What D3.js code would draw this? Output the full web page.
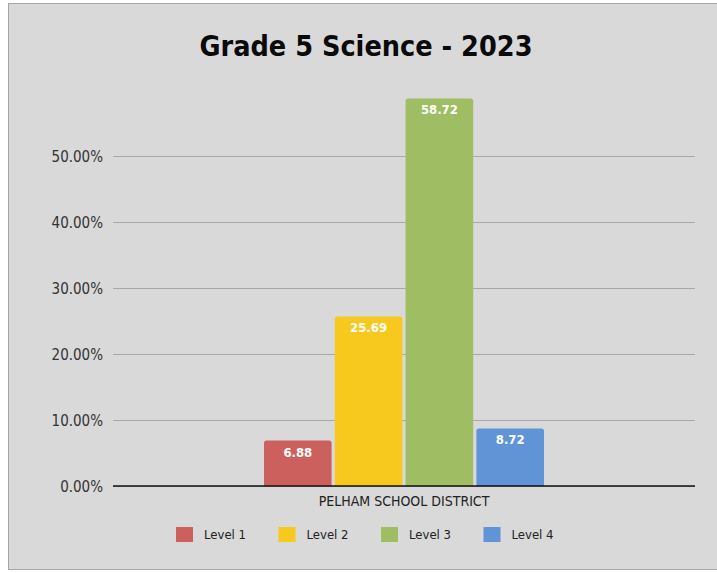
<!DOCTYPE html>
<html>
<head>
<meta charset="utf-8">
<script src="https://cdn.jsdelivr.net/npm/d3@7"></script>
<style>
  body { margin: 0; background: #fff; }
  text { font-family: "DejaVu Sans Condensed", "DejaVu Sans", sans-serif; }
  .tickLabel text { font-size: 15px; fill: #333; }
</style>
</head>
<body>
<div class="chart_container"></div>
<script>
var width = 717
var height = 573

var title = "Grade 5 Science - 2023"
var category = "PELHAM SCHOOL DISTRICT"
var levels = ["Level 1", "Level 2", "Level 3", "Level 4"]
var values = [6.88, 25.69, 58.72, 8.72]
var colors = ["#cb605d", "#f7c91e", "#9fbd63", "#6193d7"]
var ticks = [0, 10, 20, 30, 40, 50]

var svg = d3.select(".chart_container").append("svg")
            .attr("width", width)
            .attr("height", height);

// chart frame
svg.append("rect")
   .attr("x", 8.5).attr("y", 3.5)
   .attr("width", width - 8).attr("height", 566)
   .style("fill", "#d9d9d9")
   .style("stroke", "#a6a6a6")
   .style("stroke-width", 1);

var plotLeft = 113, plotRight = 695

var scaleY = d3.scaleLinear()
               .domain([0, 50])
               .range([486, 156]);

var scaleCat = d3.scaleBand()
                 .domain([category])
                 .range([plotLeft, plotRight]);

var scaleLevel = d3.scaleBand()
                   .domain(levels)
                   .range([0, 280])
                   .paddingInner(0.045);

var axisLeft = d3.axisLeft(scaleY)
                 .tickValues(ticks)
                 .tickSizeInner(-(plotRight - plotLeft))
                 .tickSizeOuter(0)
                 .tickPadding(10)
                 .tickFormat(function(d) { return d.toFixed(2) + "%"; });

var gAxis = svg.append("g")
   .attr("class", "tickLabel")
   .attr("transform", "translate(" + plotLeft + ",0)")
   .call(axisLeft);
gAxis.select(".domain").remove();
gAxis.selectAll("line").style("stroke", "#a8a8a8").style("stroke-width", 1.2);
gAxis.selectAll(".tick text").attr("dy", "0.35em");

// title
svg.append("text")
   .attr("x", 366)
   .attr("y", 56)
   .style("text-anchor", "middle")
   .style("font-weight", "bold")
   .style("font-size", "28.5px")
   .style("fill", "#0a0a0a")
   .text(title);

var groupX = scaleCat(category) + scaleCat.bandwidth() / 2 - 140

var bars = svg.selectAll(".bar")
   .data(values)
   .enter()
   .append("g")
   .attr("class", "bar");

bars.append("path")
   .attr("d", function(d, i) {
     var x0 = groupX + scaleLevel(levels[i]);
     var w = scaleLevel.bandwidth();
     var y0 = scaleY(d), y1 = scaleY(0), r = 2.5;
     return "M" + x0 + "," + y1 + "V" + (y0 + r) + "Q" + x0 + "," + y0 + " " + (x0 + r) + "," + y0 +
            "H" + (x0 + w - r) + "Q" + (x0 + w) + "," + y0 + " " + (x0 + w) + "," + (y0 + r) + "V" + y1 + "Z";
   })
   .style("fill", function(d, i) { return colors[i]; });

bars.append("text")
   .attr("x", function(d, i) { return groupX + scaleLevel(levels[i]) + scaleLevel.bandwidth() / 2; })
   .attr("y", function(d) { return scaleY(d) + 16; })
   .style("text-anchor", "middle")
   .style("font-weight", "bold")
   .style("font-size", "13px")
   .style("fill", "#fff")
   .text(function(d) { return d.toFixed(2); });

// baseline
svg.append("line")
   .attr("x1", plotLeft).attr("x2", plotRight)
   .attr("y1", scaleY(0)).attr("y2", scaleY(0))
   .style("stroke", "#111")
   .style("stroke-width", 1.3);

svg.append("text")
   .attr("x", scaleCat(category) + scaleCat.bandwidth() / 2)
   .attr("y", 506)
   .style("text-anchor", "middle")
   .style("font-size", "14px")
   .style("fill", "#222")
   .text(category);

// legend
var legend = svg.selectAll(".legend")
   .data(levels)
   .enter()
   .append("g")
   .attr("class", "legend")
   .attr("transform", function(d, i) { return "translate(" + (176 + i * 102.5) + ",527)"; });

legend.append("rect")
   .attr("width", 17).attr("height", 15)
   .style("fill", function(d, i) { return colors[i]; });

legend.append("text")
   .attr("x", 28).attr("y", 12)
   .style("font-size", "13px")
   .style("fill", "#222")
   .text(function(d) { return d; });
</script>
</body>
</html>
